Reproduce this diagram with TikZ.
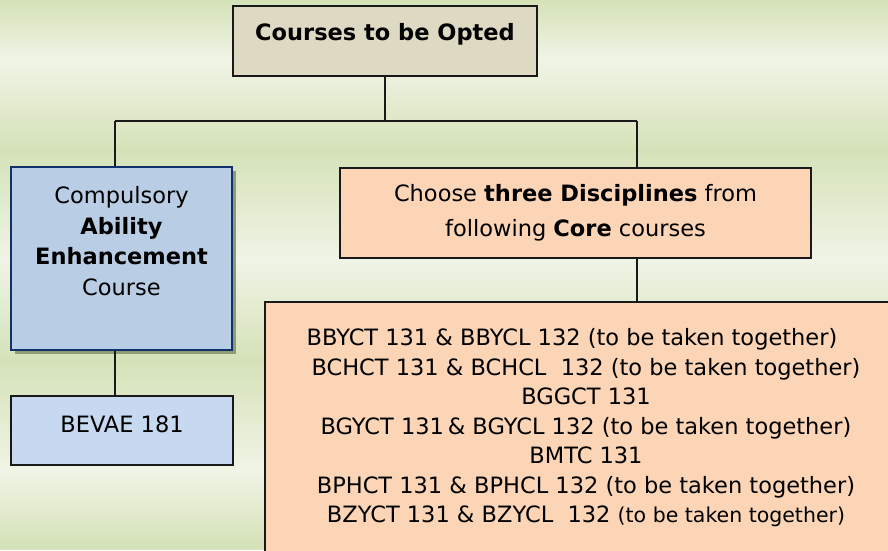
\documentclass[tikz,border=0pt]{standalone}
\usepackage{fontspec}
\setmainfont{DejaVu Sans}
\usetikzlibrary{shadows}
\definecolor{bgG}{HTML}{D5E2B8}
\definecolor{bgL}{HTML}{F0F4E6}
\definecolor{topfill}{HTML}{DDD9C3}
\definecolor{leftfill}{HTML}{B9CDE5}
\definecolor{navy}{HTML}{10306E}
\definecolor{shadowc}{HTML}{8F9C72}
\definecolor{bevfill}{HTML}{C6D9F1}
\definecolor{peach}{HTML}{FBD5B5}
\tikzset{
  box/.style={draw=black!90, line width=1.8pt, inner sep=0pt},
  txt/.style={align=center, inner sep=0pt, font=\fontsize{22.5}{30}\selectfont},
  conn/.style={line width=1.8pt, black!90}
}
\begin{document}
\begin{tikzpicture}[x=1pt,y=-1pt]
\useasboundingbox (0,0) rectangle (888,550);
% background bands
\shade[top color=bgG,bottom color=bgL] (0,0) rectangle (888,60);
\shade[top color=bgL,bottom color=bgG] (0,60) rectangle (888,150);
\shade[top color=bgG,bottom color=bgL] (0,150) rectangle (888,260);
\shade[top color=bgL,bottom color=bgG] (0,260) rectangle (888,360);
\shade[top color=bgG,bottom color=bgL] (0,360) rectangle (888,470);
\shade[top color=bgL,bottom color=bgG] (0,470) rectangle (888,545);
\fill[bgG] (0,545) rectangle (888,550);
\clip (0,0) rectangle (888,550);

% top box
\node[box, fill=topfill, minimum width=304pt, minimum height=70pt] (top) at (385,41) {};
\node[txt] (toptxt) at (385,34) {\bfseries Courses to be Opted};

% left box
\node[box, draw=navy, line width=2.4pt, fill=leftfill, minimum width=221pt, minimum height=183pt,
      drop shadow={shadow xshift=4pt, shadow yshift=-4pt, fill=shadowc, opacity=1}] (left) at (121.5,258.5) {};
\node[txt, font=\fontsize{22.5}{30.7}\selectfont] (lefttxt) at (121.5,241)
  {Compulsory\\\textbf{Ability}\\\textbf{Enhancement}\\Course};

% BEVAE box
\node[box, fill=bevfill, minimum width=222pt, minimum height=69pt] (bev) at (122,430.5) {};
\node[txt] (bevtxt) at (122,424) {BEVAE 181};

% right box
\node[box, fill=peach, minimum width=471pt, minimum height=90pt, txt, font=\fontsize{22.5}{35}\selectfont, draw=black!90, line width=1.8pt] (right) at (575.5,213)
  {Choose \textbf{three Disciplines} from\\following \textbf{Core} courses};

% big box
\node[box, fill=peach, minimum width=642pt, minimum height=252pt, txt, font=\fontsize{22.5}{29.5}\selectfont, draw=black!90, line width=1.8pt] (big) at (586,428)
  {BBYCT 131 \& BBYCL 132 (to be taken together)\hspace*{28pt}\\
   BCHCT 131 \& BCHCL\ \ 132 (to be taken together)\\
   BGGCT 131\\
   BGYCT 131\,\& BGYCL 132 (to be taken together)\\
   BMTC 131\\
   BPHCT 131 \& BPHCL 132 (to be taken together)\\
   BZYCT 131 \& BZYCL\ \ 132 {\fontsize{20.5}{29.5}\selectfont (to be taken together)}};

% connectors
\coordinate (jl) at (115,121);
\coordinate (jr) at (637,121);
\draw[conn] (top.south) -- (top.south |- jl);
\draw[conn] (jl) -- (jr);
\draw[conn] (jl) -- (jl |- left.north);
\draw[conn] (jr) -- (jr |- right.north);
\draw[conn] (jr |- right.south) -- (jr |- big.north);
\draw[conn] (jl |- left.south) -- (jl |- bev.north);
\end{tikzpicture}
\end{document}
